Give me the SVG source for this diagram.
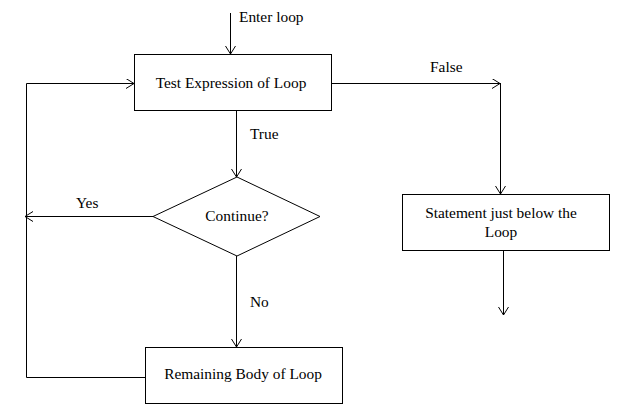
<svg xmlns="http://www.w3.org/2000/svg" width="622" height="406" viewBox="0 0 622 406">
<style>
.box{fill:#fff;stroke:#000;stroke-width:1}
.ln{fill:none;stroke:#000;stroke-width:1}
.t{font-family:"Liberation Serif","Times New Roman",serif;font-size:15.4px;fill:#000}
.c{text-anchor:middle}
</style>
<defs>
<marker id="ah" markerWidth="12" markerHeight="12" refX="9" refY="5" orient="auto" markerUnits="userSpaceOnUse">
<path d="M1,0 L9,5 L1,10" fill="none" stroke="#000" stroke-width="1"/>
</marker>
</defs>
<rect width="622" height="406" fill="#fff"/>
<g id="connectors">
<line class="ln" x1="230.5" y1="13" x2="230.5" y2="54" marker-end="url(#ah)"/>
<line class="ln" x1="236.5" y1="110" x2="236.5" y2="177" marker-end="url(#ah)"/>
<line class="ln" x1="236.5" y1="256" x2="236.5" y2="347" marker-end="url(#ah)"/>
<line class="ln" x1="153" y1="216.5" x2="25" y2="216.5" marker-end="url(#ah)"/>
<polyline class="ln" points="146,377.5 26.5,377.5 26.5,83.5 134,83.5" marker-end="url(#ah)"/>
<line class="ln" x1="332" y1="83.5" x2="500" y2="83.5" marker-end="url(#ah)"/>
<line class="ln" x1="500.5" y1="83" x2="500.5" y2="194" marker-end="url(#ah)"/>
<line class="ln" x1="503.5" y1="250" x2="503.5" y2="315" marker-end="url(#ah)"/>
<text class="t" x="239" y="22">Enter loop</text>
<text class="t" x="250" y="139">True</text>
<text class="t" x="76" y="208">Yes</text>
<text class="t" x="250" y="307">No</text>
<text class="t" x="430" y="72">False</text>
</g>
<g id="test">
<rect class="box" x="134.5" y="54.5" width="197" height="56"/>
<text class="t c" x="231" y="88">Test Expression of Loop</text>
</g>
<g id="continue">
<polygon class="box" points="237,177 320,216.5 237,256 153,216.5"/>
<text class="t c" x="237" y="221">Continue?</text>
</g>
<g id="body">
<rect class="box" x="145.5" y="347.5" width="197" height="56"/>
<text class="t c" x="243" y="379">Remaining Body of Loop</text>
</g>
<g id="statement">
<rect class="box" x="402.5" y="194.5" width="207" height="56"/>
<text class="t c" x="501" y="218">Statement just below the</text>
<text class="t c" x="501" y="237">Loop</text>
</g>
</svg>
